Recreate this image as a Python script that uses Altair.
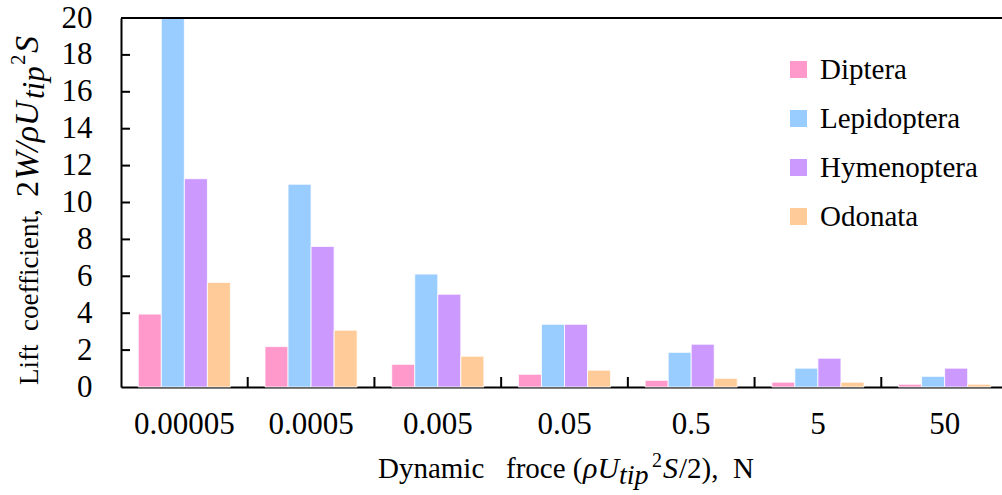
import altair as alt
import pandas as pd

categories = ["0.00005", "0.0005", "0.005", "0.05", "0.5", "5", "50"]
series = ["Diptera", "Lepidoptera", "Hymenoptera", "Odonata"]
diptera = [3.95, 2.19, 1.23, 0.69, 0.36, 0.26, 0.15]
lepidoptera = [20.0, 10.99, 6.12, 3.40, 1.88, 1.02, 0.58]
hymenoptera = [11.29, 7.62, 5.03, 3.40, 2.32, 1.56, 1.02]
odonata = [5.67, 3.08, 1.67, 0.91, 0.47, 0.26, 0.15]
colors = ["#FF99CC", "#99CCFF", "#CC99FF", "#FFCC99"]
y_ticks = [0, 2, 4, 6, 8, 10, 12, 14, 16, 18, 20]

y_title_parts = ["Lift\u00a0\u00a0coefficient,", "2", "W/\u03c1U", "tip", "2", "S"]
x_title_parts = ["Dynamic\u00a0\u00a0\u00a0froce\u00a0(", "\u03c1U", "tip", "2", "S", "/2),\u00a0\u00a0N"]

W, H = 887, 369
FONT = "Liberation Serif"

rows = []
for s, vals in zip(series, [diptera, lepidoptera, hymenoptera, odonata]):
    for c, v in zip(categories, vals):
        rows.append({"cat": c, "series": s, "value": v})
df = pd.DataFrame(rows)

xscale = alt.Scale(domain=categories, paddingInner=0, paddingOuter=0)
yscale = alt.Scale(domain=[0, 20], nice=False)
xaxis = alt.Axis(title=None, ticks=False, tickSize=0, labelPadding=22,
                 labelFontSize=31, labelFont=FONT, labelColor="black",
                 labelAngle=0, domainColor="black", domainWidth=2, grid=False)
yaxis = alt.Axis(title=None, values=y_ticks, ticks=False, tickSize=0, labelPadding=29,
                 labelFontSize=31, labelFont=FONT, labelColor="black",
                 domainColor="black", domainWidth=2, grid=False)

bars = alt.Chart(df).mark_bar(stroke="white", strokeWidth=0.8).encode(
    x=alt.X("cat:N", scale=xscale, sort=categories, axis=xaxis),
    xOffset=alt.XOffset("series:N", sort=series,
                        scale=alt.Scale(domain=series, paddingInner=0, paddingOuter=0.75)),
    y=alt.Y("value:Q", scale=yscale, axis=yaxis),
    color=alt.Color("series:N", sort=series, scale=alt.Scale(domain=series, range=colors),
                    legend=alt.Legend(title=None, orient="none", legendX=663, legendY=37,
                                      symbolType="square", symbolSize=289, symbolStrokeWidth=0,
                                      labelFontSize=29, labelFont=FONT, labelColor="black",
                                      rowPadding=19, labelOffset=7, padding=0, symbolOpacity=1)),
)

xticks = alt.Chart(pd.DataFrame({"cat": categories[1:]})).mark_rule(color="black", strokeWidth=2).encode(
    x=alt.X("cat:N", bandPosition=0, scale=xscale, sort=categories, axis=xaxis),
    y=alt.value(H), y2=alt.value(H - 10),
)

yticks = alt.Chart(pd.DataFrame({"value": y_ticks[1:]})).mark_rule(color="black", strokeWidth=2).encode(
    y=alt.Y("value:Q", scale=yscale, axis=yaxis),
    x=alt.value(0), x2=alt.value(9),
)

topline = alt.Chart(pd.DataFrame({"value": [20]})).mark_rule(color="black", strokeWidth=2).encode(
    y=alt.Y("value:Q", scale=yscale, axis=yaxis),
    x=alt.value(0), x2=alt.value(W),
)


def txt(s, x, y, size, italic=False, angle=0):
    return alt.Chart(pd.DataFrame({"t": [s]})).mark_text(
        align="left", baseline="alphabetic", font=FONT, fontSize=size,
        fontStyle="italic" if italic else "normal", angle=angle, color="black",
    ).encode(text="t:N", x=alt.value(x), y=alt.value(y))


yt = [
    txt(y_title_parts[0], -83, 367, 27, False, 270),
    txt(y_title_parts[1], -83, 179, 32, False, 270),
    txt(y_title_parts[2], -83, 162, 34, True, 270),
    txt(y_title_parts[3], -77, 81, 31, True, 270),
    txt(y_title_parts[4], -96, 47, 21, False, 270),
    txt(y_title_parts[5], -83, 35, 34, True, 270),
]
xt = [
    txt(x_title_parts[0], 257, 460, 29),
    txt(x_title_parts[1], 462, 460, 30, True),
    txt(x_title_parts[2], 498, 466, 28, True),
    txt(x_title_parts[3], 531, 449, 20),
    txt(x_title_parts[4], 542, 460, 30, True),
    txt(x_title_parts[5], 558, 460, 29),
]

chart = alt.layer(bars, xticks, yticks, topline, *yt, *xt).properties(
    width=W, height=H,
    autosize=alt.AutoSizeParams(type="none"),
    padding={"left": 121, "top": 18, "right": -6, "bottom": 108},
).configure_view(stroke=None).configure(background="white")

chart.save("out.html", embed_options={"renderer": "svg", "actions": False})
